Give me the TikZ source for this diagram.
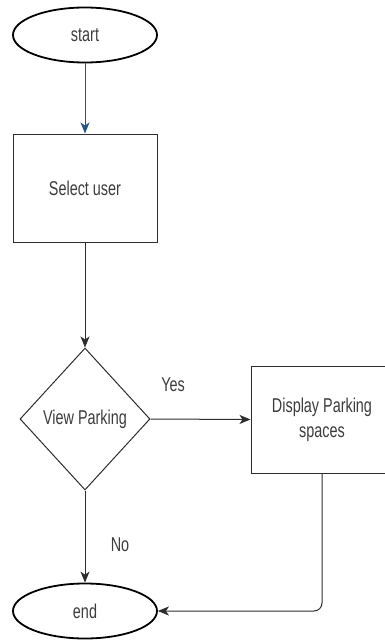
\documentclass[tikz,border=0pt]{standalone}
\usepackage{fontspec}
\setmainfont[FakeStretch=0.72]{Liberation Sans}
\usepackage{xcolor}
\usetikzlibrary{shapes.geometric, arrows.meta}
\definecolor{linegray}{RGB}{45, 45, 45}
\definecolor{textgray}{RGB}{60, 60, 60}
\definecolor{flowblue}{RGB}{40, 85, 135}

\begin{document}
\begin{tikzpicture}[
  x=1pt, y=-1pt,
  every node/.style = {font=\fontsize{20}{25}\selectfont, text=textgray},
  term/.style = {
    ellipse, draw=black, line width=1.8pt,
    minimum width=144pt, minimum height=55pt, inner sep=0pt
  },
  proc/.style = {
    rectangle, draw=linegray, line width=1pt,
    minimum width=144pt, minimum height=108pt,
    align=center, inner sep=0pt
  },
  dec/.style = {
    diamond, draw=linegray, line width=1pt, aspect=0.92,
    minimum width=130pt, minimum height=142pt, inner sep=0pt
  },
  arr/.style = {-{Stealth[length=11pt, width=9pt, inset=3pt]}, line width=1pt, draw=linegray},
  lbl/.style = {inner sep=1pt}
]
\clip (0,0) rectangle (385,642);
\useasboundingbox (0,0) rectangle (385,642);

% ---- LEFT COLUMN ----
\node[term] (start)  at (85,35)    {start};
\node[proc] (select) at (85,188)   {Select user};
\node[dec]  (view)   at (85,419)   {View Parking};
\node[term] (end)    at (85,611)   {end};

% ---- RIGHT BRANCH ----
\node[proc, minimum width=142pt, minimum height=107pt] (show) at (322,419.5) {Display Parking\\spaces};

% ---- ARROWS ----
\draw[arr, draw=flowblue, -{Stealth[length=11pt, width=9pt, inset=3pt, flowblue]}] (start) -- (select);
\draw[arr] (select) -- (view);

\draw[arr] (view.east) -- (show.west);
\node[lbl] (yes) at (173,385) {Yes};

\draw[arr] (view.south) -- (end.north);
\node[lbl] (no) at (120,545) {No};

\draw[arr, rounded corners=8pt] (show.south) |- (end.east);

\end{tikzpicture}
\end{document}
